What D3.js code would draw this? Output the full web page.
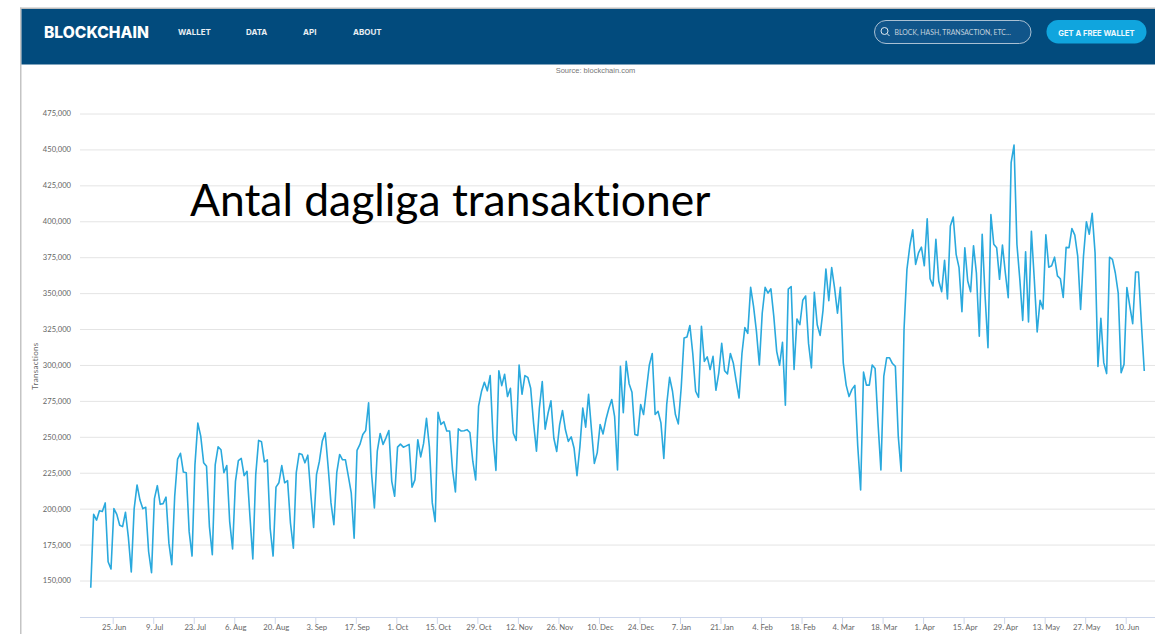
<!DOCTYPE html>
<html>
<head>
<meta charset="utf-8">
<script src="https://cdn.jsdelivr.net/npm/d3@7"></script>
<style>
  body { margin: 0; background: #fff; overflow: hidden; }
  svg { display: block; }
  text { font-family: Lato, "Open Sans", sans-serif; font-variant-ligatures: none; }
</style>
</head>
<body>
<svg id="chart" width="1155" height="634"></svg>
<script>
// daily series, one value per day from firstDay
const firstDay = "2017-06-17";
const transactions = [
  145000,196000,192000,198500,198000,204000,163000,158000,200000,196000,
  188500,187500,197500,180000,156000,200000,216500,206000,200000,201000,
  170000,155500,207000,216000,203000,203500,208000,176000,161000,208500,
  234500,238500,225500,225000,184000,167000,230500,259500,250500,232000,
  229500,187500,168000,230500,243000,241000,225000,230000,191000,172000,
  219000,233500,235000,223000,226000,194500,165000,223500,247500,246500,
  232500,234000,186000,167000,215000,218000,230000,218000,219500,190000,
  172500,224900,238400,237700,231900,237200,211000,187000,223700,233000,
  247000,252800,229500,204000,188800,225000,237700,234000,234000,222600,
  211000,179500,240500,244700,251600,254400,273700,225000,200500,240000,
  252300,244700,249300,254400,219000,208600,242800,244900,242800,243700,
  244700,215000,220000,248000,236000,245400,262800,243000,204000,191000,
  267000,258600,260500,254000,254000,227000,211600,255600,254000,254200,
  255000,253000,233000,220000,271400,281500,288000,282000,292600,249000,
  226600,296000,285600,293500,278000,283800,252500,247500,300000,279600,
  292600,291400,283800,259500,240000,270000,288400,255300,266400,275000,
  249000,239800,258300,268300,254900,246800,250000,242000,223000,243000,
  270000,256700,279600,255000,231500,239000,258600,252000,262000,269700,
  276000,264000,226900,299000,266700,302500,287000,281000,251600,251000,
  272500,265500,283000,300000,308000,265500,267800,259700,235000,272500,
  291400,281700,265500,259000,284000,318800,319500,327500,308000,281700,
  277500,326900,302500,305600,296800,306000,282400,294500,315000,296000,
  293800,308000,301400,288700,277000,308000,326000,322000,354000,340800,
  323400,300000,336000,354000,350000,353000,333800,309500,299800,315700,
  272000,352800,354600,296800,332000,328000,345000,348000,315000,298000,
  350500,328000,320600,338000,366700,344700,367800,353500,336000,354000,
  301400,286000,278000,283000,285800,243600,213000,295000,286000,286000,
  300000,297600,259800,227000,292000,305000,305000,301000,299000,250500,
  226000,324800,366500,382800,394000,370000,378000,382000,369000,401800,
  360000,355000,387400,358400,351000,372800,346000,396700,403000,377000,
  367700,337000,381600,358400,351000,383000,364000,320000,391000,348000,
  312000,404600,384000,381600,359600,383500,364000,346800,440800,453000,
  384000,359600,331000,378800,330000,393000,359600,323000,345000,339000,
  390600,368000,369000,375000,362000,360000,347000,381800,381600,395000,
  390400,375800,338700,375800,399700,391000,405500,378000,299000,332400,
  301600,294000,375000,373500,364000,350000,294600,300400,353800,341000,
  328700,364700,364700,329000,295800
];
const yTicks = [150000,175000,200000,225000,250000,275000,300000,325000,350000,375000,400000,425000,450000,475000];
const xTicks = ["2017-06-25","2017-07-09","2017-07-23","2017-08-06","2017-08-20","2017-09-03","2017-09-17",
  "2017-10-01","2017-10-15","2017-10-29","2017-11-12","2017-11-26","2017-12-10","2017-12-24","2018-01-07",
  "2018-01-21","2018-02-04","2018-02-18","2018-03-04","2018-03-18","2018-04-01","2018-04-15","2018-04-29",
  "2018-05-13","2018-05-27","2018-06-10"];
const navItems = [["WALLET", 178], ["DATA", 246], ["API", 303], ["ABOUT", 353]];

const width = 1155, height = 634;
const svg = d3.select("#chart");
const parseDay = d3.utcParse("%Y-%m-%d");

// scales, pinned to the first and last tick / gridline
const x = d3.scaleUtc()
  .domain([parseDay(xTicks[0]), parseDay(xTicks[xTicks.length - 1])])
  .range([112.7, 1125.7]);
const y = d3.scaleLinear()
  .domain([150000, 475000])
  .range([580.5, 113.5]);

const axisY = 617;

// Eje Y with gridlines
const gy = svg.append("g")
  .attr("transform", "translate(80,0)")
  .call(d3.axisLeft(y)
    .tickValues(yTicks)
    .tickFormat(d3.format(","))
    .tickSize(-(width - 80))
    .tickPadding(9));
gy.select(".domain").remove();
gy.selectAll("line").attr("stroke", "#e4e4e4").attr("stroke-width", 1);
gy.selectAll("text").attr("fill", "#666").style("font-size", "7.6px");

// Eje X
const gx = svg.append("g")
  .attr("transform", `translate(0,${axisY})`)
  .call(d3.axisBottom(x)
    .tickValues(xTicks.map(parseDay))
    .tickFormat(d3.utcFormat("%-d. %b"))
    .tickSize(7)
    .tickPadding(1));
gx.select(".domain").attr("stroke", "#ccd6eb").attr("d", `M80,0.5H${width}`);
gx.selectAll("line").attr("stroke", "#ccd6eb");
gx.selectAll("text").attr("fill", "#666").attr("dx", 1).style("font-size", "7.7px");

svg.append("text")
  .attr("transform", "translate(38,366) rotate(-90)")
  .attr("text-anchor", "middle")
  .attr("fill", "#666")
  .style("font-size", "8px")
  .style("letter-spacing", "0.3px")
  .text("Transactions");

// line, the points sit a few hours past the day tick in the original
const start = d3.utcHour.offset(parseDay(firstDay), 10);
const line = d3.line()
  .x((d, i) => x(d3.utcDay.offset(start, i)))
  .y(d => y(d));

svg.append("path")
  .datum(transactions)
  .attr("fill", "none")
  .attr("stroke", "#2aa9dd")
  .attr("stroke-width", 1.6)
  .attr("stroke-linejoin", "round")
  .attr("d", line);

// page frame
svg.append("rect").attr("x", 20).attr("y", 7.5).attr("width", width - 20).attr("height", 2).attr("fill", "#bdbdbd");
svg.append("rect").attr("x", 20).attr("y", 7.5).attr("width", 1.5).attr("height", height).attr("fill", "#c4c4c4");

// header bar
const header = svg.append("g");
header.append("rect").attr("x", 21.5).attr("y", 9).attr("width", width - 21.5).attr("height", 55.5).attr("fill", "#024b7d");
header.append("text")
  .attr("x", 44).attr("y", 37.5)
  .attr("fill", "#fff")
  .style("font-family", "Inter, sans-serif")
  .style("font-size", "15.6px").style("font-weight", 800)
  .text("BLOCKCHAIN");

navItems.forEach(([label, px]) => {
  header.append("text")
    .attr("x", px).attr("y", 35)
    .attr("fill", "#e8eef3")
    .style("font-family", "Inter, sans-serif")
    .style("font-size", "8px").style("font-weight", 700)
    .text(label);
});

// search pill
header.append("rect")
  .attr("x", 874.5).attr("y", 20.5).attr("width", 156.5).attr("height", 23).attr("rx", 11.5)
  .attr("fill", "#10558a").attr("stroke", "#a9c0d3").attr("stroke-width", 1);
header.append("circle").attr("cx", 884.5).attr("cy", 31).attr("r", 3.5).attr("fill", "none").attr("stroke", "#dfe8ef").attr("stroke-width", 1);
header.append("line").attr("x1", 887).attr("y1", 33.5).attr("x2", 889.5).attr("y2", 36).attr("stroke", "#dfe8ef").attr("stroke-width", 1);
header.append("text")
  .attr("x", 894.5).attr("y", 34.5)
  .attr("fill", "#c3d2de")
  .style("font-size", "6.9px")
  .text("BLOCK, HASH, TRANSACTION, ETC...");

// wallet button
header.append("rect")
  .attr("x", 1046.5).attr("y", 20).attr("width", 100).attr("height", 23.5).attr("rx", 11.7)
  .attr("fill", "#10a5de");
header.append("text")
  .attr("x", 1096.5).attr("y", 36)
  .attr("text-anchor", "middle")
  .attr("fill", "#eef8fd")
  .style("font-family", "Inter, sans-serif")
  .style("font-size", "7.6px").style("font-weight", 700)
  .text("GET A FREE WALLET");

svg.append("text")
  .attr("x", 595.5).attr("y", 73)
  .attr("text-anchor", "middle")
  .attr("fill", "#777")
  .style("font-family", "'Liberation Sans', sans-serif")
  .style("font-size", "7.5px")
  .text("Source: blockchain.com");

// big overlay title
svg.append("text")
  .attr("x", 190).attr("y", 216)
  .attr("fill", "#000")
  .style("font-size", "44.4px")
  .text("Antal dagliga transaktioner");
</script>
</body>
</html>
